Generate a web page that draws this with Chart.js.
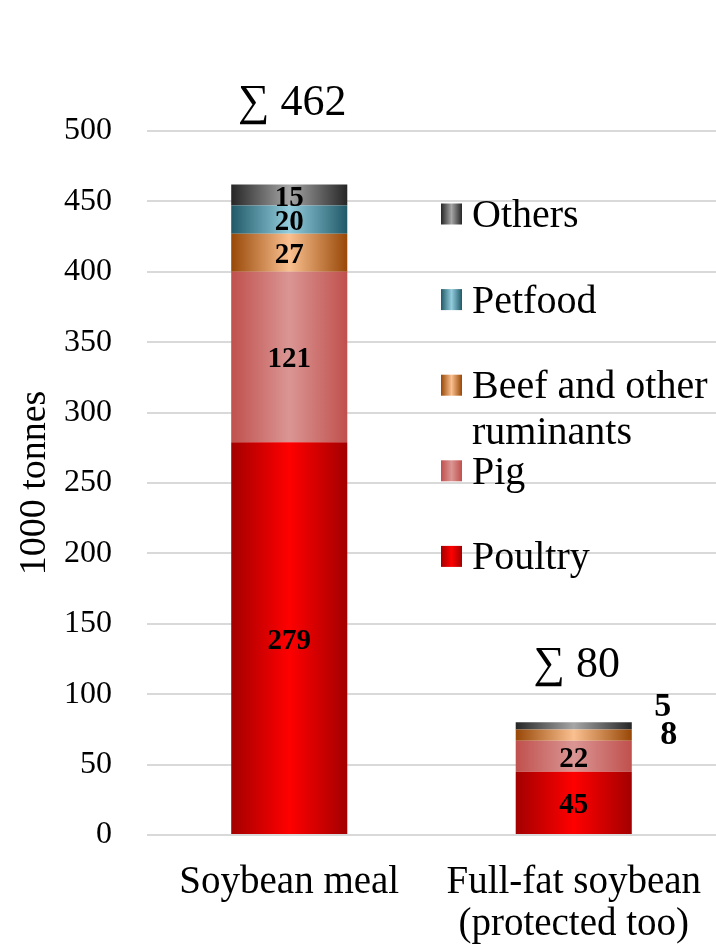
<!DOCTYPE html>
<html>
<head>
<meta charset="utf-8">
<script src="https://cdn.jsdelivr.net/npm/chart.js@4.4.1/dist/chart.umd.min.js"></script>
<style>
  html, body { margin: 0; padding: 0; background: #fff; }
  #wrap { width: 716px; height: 946px; }
</style>
</head>
<body>
<div id="wrap"><canvas id="feedChart"></canvas></div>
<script>
// data (1000 tonnes)
const categories = ["Soybean meal", ["Full-fat soybean", "(protected too)"]];
const poultry = [279, 45];
const pig = [121, 22];
const beef = [27, 8];
const petfood = [20, 0];
const others = [15, 5];
const yTicks = [0, 50, 100, 150, 200, 250, 300, 350, 400, 450, 500];

const FONT = "'Liberation Serif', 'Times New Roman', serif";
const CAT_PCT = 0.408;

// edge / centre colour for the cylinder-ish fill
const fills = {
    Poultry: ["#a30000", "#ff0000"],
    Pig: ["#c0504d", "#da9694"],
    "Beef and other ruminants": ["#984807", "#fac090"],
    Petfood: ["#215968", "#93cddd"],
    Others: ["#262626", "#a6a6a6"]
};

function barFill(ctx, name) {
    const [edge, mid] = fills[name];
    const chart = ctx.chart;
    const xs = chart.scales.x;
    if (!chart.chartArea || !xs || ctx.dataIndex === undefined) return mid;
    const cx = xs.getPixelForValue(ctx.dataIndex);
    const half = (xs.width / categories.length) * CAT_PCT / 2;
    const g = chart.ctx.createLinearGradient(cx - half, 0, cx + half, 0);
    g.addColorStop(0, edge);
    g.addColorStop(0.5, mid);
    g.addColorStop(1, edge);
    return g;
}

function makeSet(label, data) {
    return {
        label,
        data,
        backgroundColor: ctx => barFill(ctx, label),
        borderWidth: 0,
        barPercentage: 1,
        categoryPercentage: CAT_PCT
    };
}

// values inside the segments, small ones beside the bar, and the totals
const labelPlugin = {
    id: "segLabels",
    afterDatasetsDraw(chart, args, opts) {
        const c = chart.ctx;
        c.save();
        c.fillStyle = "#000";
        c.textAlign = "center";
        c.textBaseline = "middle";
        chart.data.datasets.forEach((ds, di) => {
            const meta = chart.getDatasetMeta(di);
            meta.data.forEach((el, i) => {
                const v = ds.data[i];
                if (!v) return;
                const midY = (el.y + el.base) / 2;
                if (v >= 10) {
                    c.font = "bold 29px " + FONT;
                    c.fillText(String(v), el.x, midY + 3);
                } else {
                    // tiny segments: number sits to the right of the bar
                    c.font = "bold 34px " + FONT;
                    const beefEl = chart.getDatasetMeta(2).data[i];
                    const beefMid = (beefEl.y + beefEl.base) / 2;
                    const x = el.x + el.width / 2 + 37;
                    if (ds.label === "Others") c.fillText(String(v), x - 6, beefMid - 28);
                    else c.fillText(String(v), x, midY);
                }
            });
        });
        // totals
        const top = chart.getDatasetMeta(chart.data.datasets.length - 1).data;
        c.font = "44px " + FONT;
        c.textBaseline = "alphabetic";
        categories.forEach((cat, i) => {
            const sum = chart.data.datasets.reduce((s, ds) => s + ds.data[i], 0);
            c.fillText("\u2211 " + sum, top[i].x + 3, top[i].y - opts.offsets[i]);
        });
        c.restore();
    }
};

// legend drawn inside the plot, top to bottom: Others ... Poultry
const legendPlugin = {
    id: "sideLegend",
    afterDraw(chart) {
        const c = chart.ctx;
        const sets = chart.data.datasets.slice().reverse();
        c.save();
        c.font = "40px " + FONT;
        c.fillStyle = "#000";
        c.textAlign = "left";
        c.textBaseline = "alphabetic";
        sets.forEach((ds, k) => {
            const cy = 214 + k * 85.6;
            const [edge, mid] = fills[ds.label];
            const g = c.createLinearGradient(441, 0, 462, 0);
            g.addColorStop(0, edge);
            g.addColorStop(0.5, mid);
            g.addColorStop(1, edge);
            c.fillStyle = g;
            c.fillRect(441, cy - 10.5, 21, 21);
            c.fillStyle = "#000";
            // wrap long names
            const words = ds.label.split(" ");
            const lines = [];
            let cur = "";
            words.forEach(w => {
                const t = cur ? cur + " " + w : w;
                if (c.measureText(t).width > 240 && cur) { lines.push(cur); cur = w; }
                else cur = t;
            });
            lines.push(cur);
            lines.forEach((ln, j) => c.fillText(ln, 472, cy + 13 + j * 46));
        });
        c.restore();
    }
};

new Chart(document.getElementById("feedChart"), {
    type: "bar",
    data: {
        labels: categories,
        datasets: [
            makeSet("Poultry", poultry),
            makeSet("Pig", pig),
            makeSet("Beef and other ruminants", beef),
            makeSet("Petfood", petfood),
            makeSet("Others", others)
        ]
    },
    options: {
        responsive: true,
        maintainAspectRatio: false,
        animation: false,
        layout: { padding: { top: 131, left: 0, right: 0, bottom: 0 } },
        plugins: {
            legend: { display: false },
            tooltip: { enabled: false },
            segLabels: { offsets: [70, 45] }
        },
        scales: {
            x: {
                stacked: true,
                afterFit: axis => {
                    axis.height = 111;
                    axis.paddingLeft = 0;
                    axis.paddingRight = 0;
                },
                grid: { display: false },
                border: { display: false },
                ticks: {
                    color: "#000",
                    padding: 19,
                    maxRotation: 0,
                    font: { family: FONT, size: 39, lineHeight: 1.07 }
                }
            },
            y: {
                stacked: true,
                min: 0,
                max: 500,
                afterFit: axis => { axis.width = 147; },
                afterBuildTicks: axis => { axis.ticks = yTicks.map(v => ({ value: v })); },
                grid: { color: "#d9d9d9", lineWidth: 2, drawTicks: false },
                border: { display: false },
                ticks: {
                    color: "#000",
                    padding: 35,
                    font: { family: FONT, size: 32 }
                },
                title: {
                    display: true,
                    text: "1000 tonnes",
                    color: "#000",
                    padding: { top: 12, bottom: 0 },
                    font: { family: FONT, size: 38 }
                }
            }
        }
    },
    plugins: [labelPlugin, legendPlugin]
});
</script>
</body>
</html>
